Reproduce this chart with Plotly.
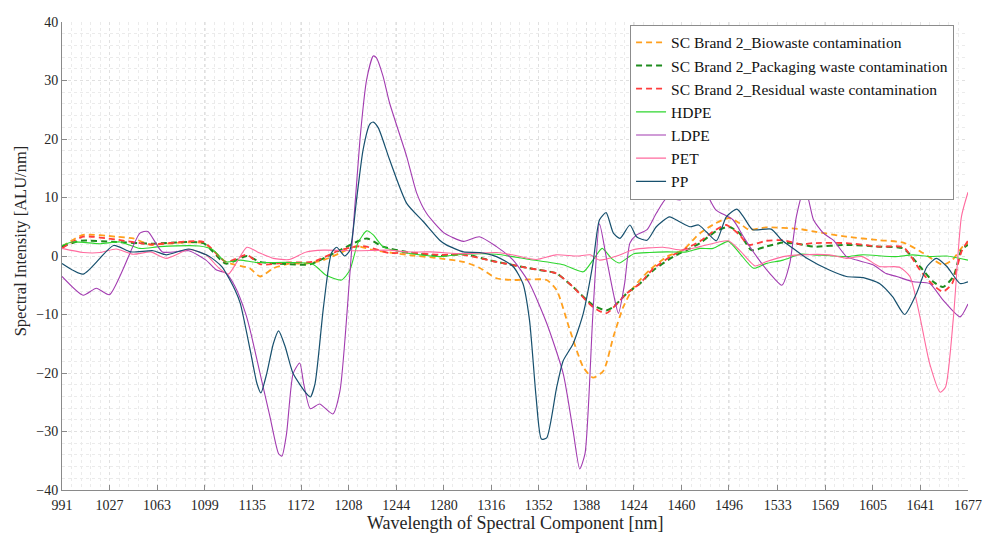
import plotly.graph_objects as go

# ---------------- data ----------------
tick_labels = [991, 1027, 1063, 1099, 1135, 1172, 1208, 1244, 1280, 1316,
               1352, 1388, 1424, 1460, 1496, 1533, 1569, 1605, 1641, 1677]

bio_x = [991, 1007, 1032, 1045, 1058, 1070, 1098, 1115, 1122, 1133, 1141, 1151, 1163, 1176, 1189,
         1201.5, 1214, 1226.7, 1239, 1252, 1277, 1295, 1307, 1320, 1332.6, 1345, 1358, 1365.5,
         1375.6, 1385.7, 1393, 1401, 1408.5, 1416, 1424, 1436, 1449, 1461, 1474, 1486, 1496,
         1504, 1511, 1524, 1550, 1560, 1585, 1610, 1628, 1643, 1658, 1665, 1673, 1677]
bio_y = [1.6, 3.6, 3.3, 3.0, 1.9, 2.1, 2.2, -1.0, -1.5, -2.1, -3.5, -2.1, -1.3, -1.3, -0.7,
         0.5, 1.7, 1.0, 0.6, 0.2, -0.4, -1.0, -2.0, -3.8, -4.1, -4.0, -4.1, -5.8,
         -12.7, -19.0, -20.8, -19.6, -13.8, -8.7, -5.3, -2.4, -0.1, 1.0, 3.9, 5.6, 6.5,
         5.6, 4.5, 4.9, 4.6, 4.2, 3.3, 2.7, 2.3, 0.5, -1.5, -0.7, 1.6, 2.2]

pack_x = [991, 1005, 1032, 1058, 1098, 1115, 1131, 1141, 1163, 1179, 1201.5, 1221.7, 1234, 1252,
          1277, 1295, 1320, 1345, 1365.5, 1378, 1393, 1403, 1408.5, 1418.5, 1428.6, 1439, 1454,
          1464, 1474, 1486, 1496, 1504, 1513, 1524, 1537, 1550, 1560, 1585, 1610, 1628, 1640.6,
          1650.7, 1658, 1666, 1672, 1677]
pack_y = [1.6, 2.6, 2.4, 2.1, 2.2, -1.3, 0.0, -1.0, -1.4, -1.4, 1.0, 3.0, 1.6, 0.7,
          0.0, 0.3, -1.0, -2.1, -3.0, -5.3, -8.4, -9.3, -8.7, -6.4, -4.7, -2.4, -0.1,
          1.0, 2.2, 4.2, 5.0, 3.9, 1.0, 1.6, 2.3, 2.0, 1.6, 1.9, 1.6, 1.3, -1.8,
          -4.4, -5.3, -3.5, 1.0, 1.9]

res_x = [991, 1007, 1032, 1058, 1098, 1115, 1131, 1141, 1163, 1181, 1201.5, 1219, 1239, 1252,
         1277, 1295, 1320, 1345, 1365.5, 1378, 1393, 1403, 1418.5, 1428.6, 1439, 1454, 1474,
         1484, 1494, 1504, 1511, 1524, 1537, 1550, 1560, 1585, 1610, 1628, 1640.6, 1650.7,
         1658, 1665, 1672, 1677]
res_y = [1.3, 3.3, 2.8, 2.0, 2.4, -1.0, 0.2, -1.4, -1.1, -1.0, 1.0, 1.7, 0.5, 0.6,
         0.2, 0.2, -1.0, -2.1, -3.0, -5.3, -8.7, -9.8, -6.4, -4.7, -2.1, 0.2, 2.5,
         4.2, 5.3, 3.6, 1.9, 2.6, 2.7, 2.0, 2.2, 2.2, 1.6, 1.5, -2.4, -5.0,
         -6.1, -4.7, 0.7, 2.6]

hdpe_x = [991, 999, 1020, 1035, 1050, 1065, 1095, 1105, 1115, 1126, 1138, 1163, 1181, 1191,
          1202.7, 1209, 1215, 1221.7, 1226.7, 1234, 1252, 1277, 1295, 1320, 1345, 1370.5,
          1385.7, 1393, 1400, 1407, 1413, 1424, 1436, 1449, 1464, 1474, 1484, 1495.5, 1504,
          1514.6, 1524, 1537, 1550, 1560, 1585, 1597, 1622, 1635, 1648, 1661, 1677]
hdpe_y = [1.8, 2.4, 2.1, 2.4, 1.3, 1.6, 1.7, 1.1, -1.0, -0.7, -1.1, -1.1, -1.4, -3.3,
          -4.1, -2.4, 2.2, 4.3, 3.6, 1.6, 0.5, -0.1, 0.3, 0.3, -0.6, -1.5,
          -2.7, -0.7, 1.3, -0.4, -1.2, 0.4, 0.6, 0.7, 0.7, 1.3, 1.3, 2.5, 0.5,
          -2.1, -1.3, -0.7, 0.3, 0.2, -0.1, 0.2, -0.1, 0.2, -0.1, 0.0, -0.7]

ldpe_x = [991, 1007, 1017, 1027, 1050, 1056, 1067, 1087, 1100, 1108, 1115, 1122, 1130, 1133.5,
          1141, 1148.5, 1155, 1157.5, 1161, 1166, 1171, 1174, 1179, 1186, 1196, 1201.5, 1209,
          1216.6, 1221.7, 1226.7, 1229, 1234, 1239, 1252, 1259.5, 1267, 1280, 1295, 1307, 1320,
          1332.6, 1345, 1358, 1370.5, 1378, 1383, 1387, 1393, 1398, 1403.5, 1408.5, 1412.3,
          1417, 1421, 1426, 1434, 1441, 1449, 1459, 1466.5, 1473, 1479, 1486, 1499, 1507, 1517,
          1527, 1536, 1542, 1547, 1552, 1555, 1560, 1567.5, 1575, 1585, 1592.7, 1605, 1615,
          1623, 1635.6, 1648, 1658, 1671, 1677]
ldpe_y = [-3.5, -6.7, -5.5, -6.6, 3.9, 4.2, 0.7, 0.9, -0.7, -2.4, -2.9, -5.2, -9.8, -12.7,
          -20.1, -27.5, -33.8, -34.2, -30.4, -20.1, -18.3, -21.8, -26.1, -25.3, -27.0, -23.0, -3.0,
          19.9, 30.2, 34.2, 33.9, 30.8, 26.2, 17.0, 10.8, 7.3, 4.0, 2.5, 3.3, 1.6,
          -0.7, -4.7, -11.5, -20.1, -29.9, -36.4, -33.8, -9.8, 5.5, -0.7, -6.4, -9.8,
          -4.7, 2.2, 3.6, 4.5, 7.3, 9.9, 9.6, 10.7, 12.5, 10.7, 7.9, 6.2, 3.3, -0.1,
          -3.0, -5.0, -1.3, 6.7, 10.7, 10.5, 6.2, 3.9, 2.7, -0.1, -0.7, -1.5, -3.0,
          -3.5, -4.4, -4.7, -7.5, -10.4, -8.2]

pet_x = [991, 1007, 1020, 1032, 1045, 1058, 1070, 1087, 1100, 1110, 1117, 1131, 1139, 1151,
         1163, 1176, 1189, 1214, 1239, 1252, 1270, 1295, 1320, 1332, 1350, 1365, 1381, 1391,
         1398, 1411, 1424, 1446, 1461, 1474, 1495.5, 1504, 1515.8, 1524, 1537, 1550, 1572,
         1585, 1597, 1610, 1625, 1633, 1640.6, 1648, 1656, 1660, 1666, 1672, 1677]
pet_y = [1.3, 0.6, 0.6, 1.2, 0.3, 0.7, -0.4, 1.1, 0.2, -2.1, -3.1, 1.5, 0.7, -0.4,
         -0.6, 0.7, 1.0, 0.9, 1.0, 0.7, 0.7, 0.4, 0.6, 0.2, -0.6, 0.2, 0.0, 0.2,
         -0.7, 0.0, 1.1, 1.5, 1.0, 1.6, 2.6, 1.0, -1.7, -1.0, -0.1, 0.2, 0.2,
         -0.4, -0.1, -1.8, -1.9, -3.5, -10.4, -18.4, -23.3, -22.4, -10.4, 6.7, 10.9]

pp_x = [991, 1007, 1030, 1043, 1060, 1070, 1087, 1102, 1112, 1122, 1126, 1133.5, 1138.6,
        1141.6, 1146, 1151, 1155, 1160, 1166, 1176, 1179, 1182.6, 1189, 1195, 1199, 1205,
        1209, 1214, 1219, 1224, 1226.7, 1230.5, 1239, 1252, 1264.5, 1277, 1282, 1295, 1307,
        1320, 1332.6, 1340, 1345, 1350, 1354, 1358, 1365.5, 1370.5, 1378, 1385.7, 1393, 1398,
        1403, 1408.5, 1413.5, 1421, 1426, 1434, 1441, 1451, 1459, 1466.5, 1473, 1479, 1486.5,
        1494, 1502, 1507, 1514, 1528, 1536, 1544.7, 1555, 1572, 1585, 1597.7, 1610, 1620,
        1629, 1638, 1646, 1653, 1661, 1671, 1677]
pp_y = [-1.3, -3.1, 1.8, 0.7, 0.9, 0.2, 1.2, 0.0, -1.8, -5.8, -8.1, -16.1, -21.8,
        -23.4, -20.1, -15.0, -12.8, -15.5, -20.1, -23.5, -24.1, -21.8, -8.7, 0.5, 1.5, 0.0,
        1.0, 9.6, 18.2, 22.5, 22.9, 21.9, 16.5, 9.0, 5.9, 2.7, 1.9, 0.7, 0.6,
        -0.1, -1.8, -4.7, -11.0, -24.2, -31.3, -31.1, -22.5, -17.9, -15.0, -9.8, -1.3, 6.2,
        7.4, 3.9, 3.0, 5.3, 3.3, 2.7, 5.0, 6.7, 5.8, 5.0, 5.3, 4.1, 2.6,
        6.7, 8.0, 6.7, 4.5, 4.6, 2.7, 1.3, -0.4, -2.4, -3.5, -3.7, -4.7, -7.0,
        -10.0, -6.4, -1.8, -0.4, -1.8, -4.7, -4.4]

# ---------------- figure ----------------
FONT = "Liberation Serif"
TXT = "#262626"
series = [
    ("SC Brand 2_Biowaste contamination", bio_x, bio_y, "#FFA01E", "6px,4px", 1.8),
    ("SC Brand 2_Packaging waste contamination", pack_x, pack_y, "#1E8C1E", "6px,4px", 2.0),
    ("SC Brand 2_Residual waste contamination", res_x, res_y, "#FF3C3C", "6px,4px", 1.8),
    ("HDPE", hdpe_x, hdpe_y, "#2ED62E", "solid", 1.1),
    ("LDPE", ldpe_x, ldpe_y, "#A23BB0", "solid", 1.1),
    ("PET", pet_x, pet_y, "#FF6A9E", "solid", 1.1),
    ("PP", pp_x, pp_y, "#17506E", "solid", 1.2),
]

fig = go.Figure()
for name, xs, ys, col, dash, w in series:
    fig.add_trace(go.Scatter(
        x=xs, y=ys, mode="lines", name=name,
        line=dict(color=col, dash=dash, width=w, shape="spline", smoothing=0.6),
    ))

# body margin is removed (post_script below), so the figure fills the 983x537 window
fig.update_layout(
    width=983, height=537,
    margin=dict(l=62, r=15, t=22, b=47, autoexpand=False),
    paper_bgcolor="white", plot_bgcolor="white",
    font=dict(family=FONT, size=14, color=TXT),
    showlegend=True,
    legend=dict(
        x=0.627, y=0.994, xanchor="left", yanchor="top",
        bgcolor="white", bordercolor="#8c8c8c", borderwidth=1,
        font=dict(family=FONT, size=15.5, color="#111"),
        itemwidth=30, tracegroupgap=0,
    ),
    annotations=[
        dict(text="Spectral Intensity [ALU/nm]", xref="paper", yref="paper",
             x=-0.046, y=0.532, xanchor="center", yanchor="middle", textangle=-90,
             showarrow=False, font=dict(family=FONT, size=16.5, color=TXT)),
        dict(text="Wavelength of Spectral Component [nm]", xref="paper", yref="paper",
             x=0.5, y=-0.0705, xanchor="center", yanchor="middle",
             showarrow=False, font=dict(family=FONT, size=18, color=TXT)),
    ],
)

fig.update_xaxes(
    range=[991, 1677], tickvals=tick_labels, ticktext=[str(t) for t in tick_labels],
    automargin=False, ticklabeloverflow="allow",
    showgrid=True, gridcolor="#e0e0e0", griddash="dot", gridwidth=1,
    minor=dict(dtick=36.1 / 5, tick0=991, showgrid=True, gridcolor="#ebebeb", griddash="dot", gridwidth=1),
    showline=True, linecolor="#8a8a8a", linewidth=1,
    ticks="inside", ticklen=5, tickcolor="#8a8a8a", ticklabelstandoff=2,
    zeroline=False, tickfont=dict(family=FONT, size=14, color=TXT),
)
fig.update_yaxes(
    range=[-40, 40], dtick=10, automargin=False,
    showgrid=True, gridcolor="#e0e0e0", griddash="dot", gridwidth=1,
    minor=dict(dtick=2, showgrid=True, gridcolor="#ebebeb", griddash="dot", gridwidth=1),
    showline=True, linecolor="#8a8a8a", linewidth=1,
    ticks="inside", ticklen=5, tickcolor="#8a8a8a",
    zeroline=False, tickfont=dict(family=FONT, size=14, color=TXT),
)

fig.write_html(
    "out.html",
    config={"displayModeBar": False},
    post_script="document.body.style.margin='0px'; document.body.style.overflow='hidden';",
)
